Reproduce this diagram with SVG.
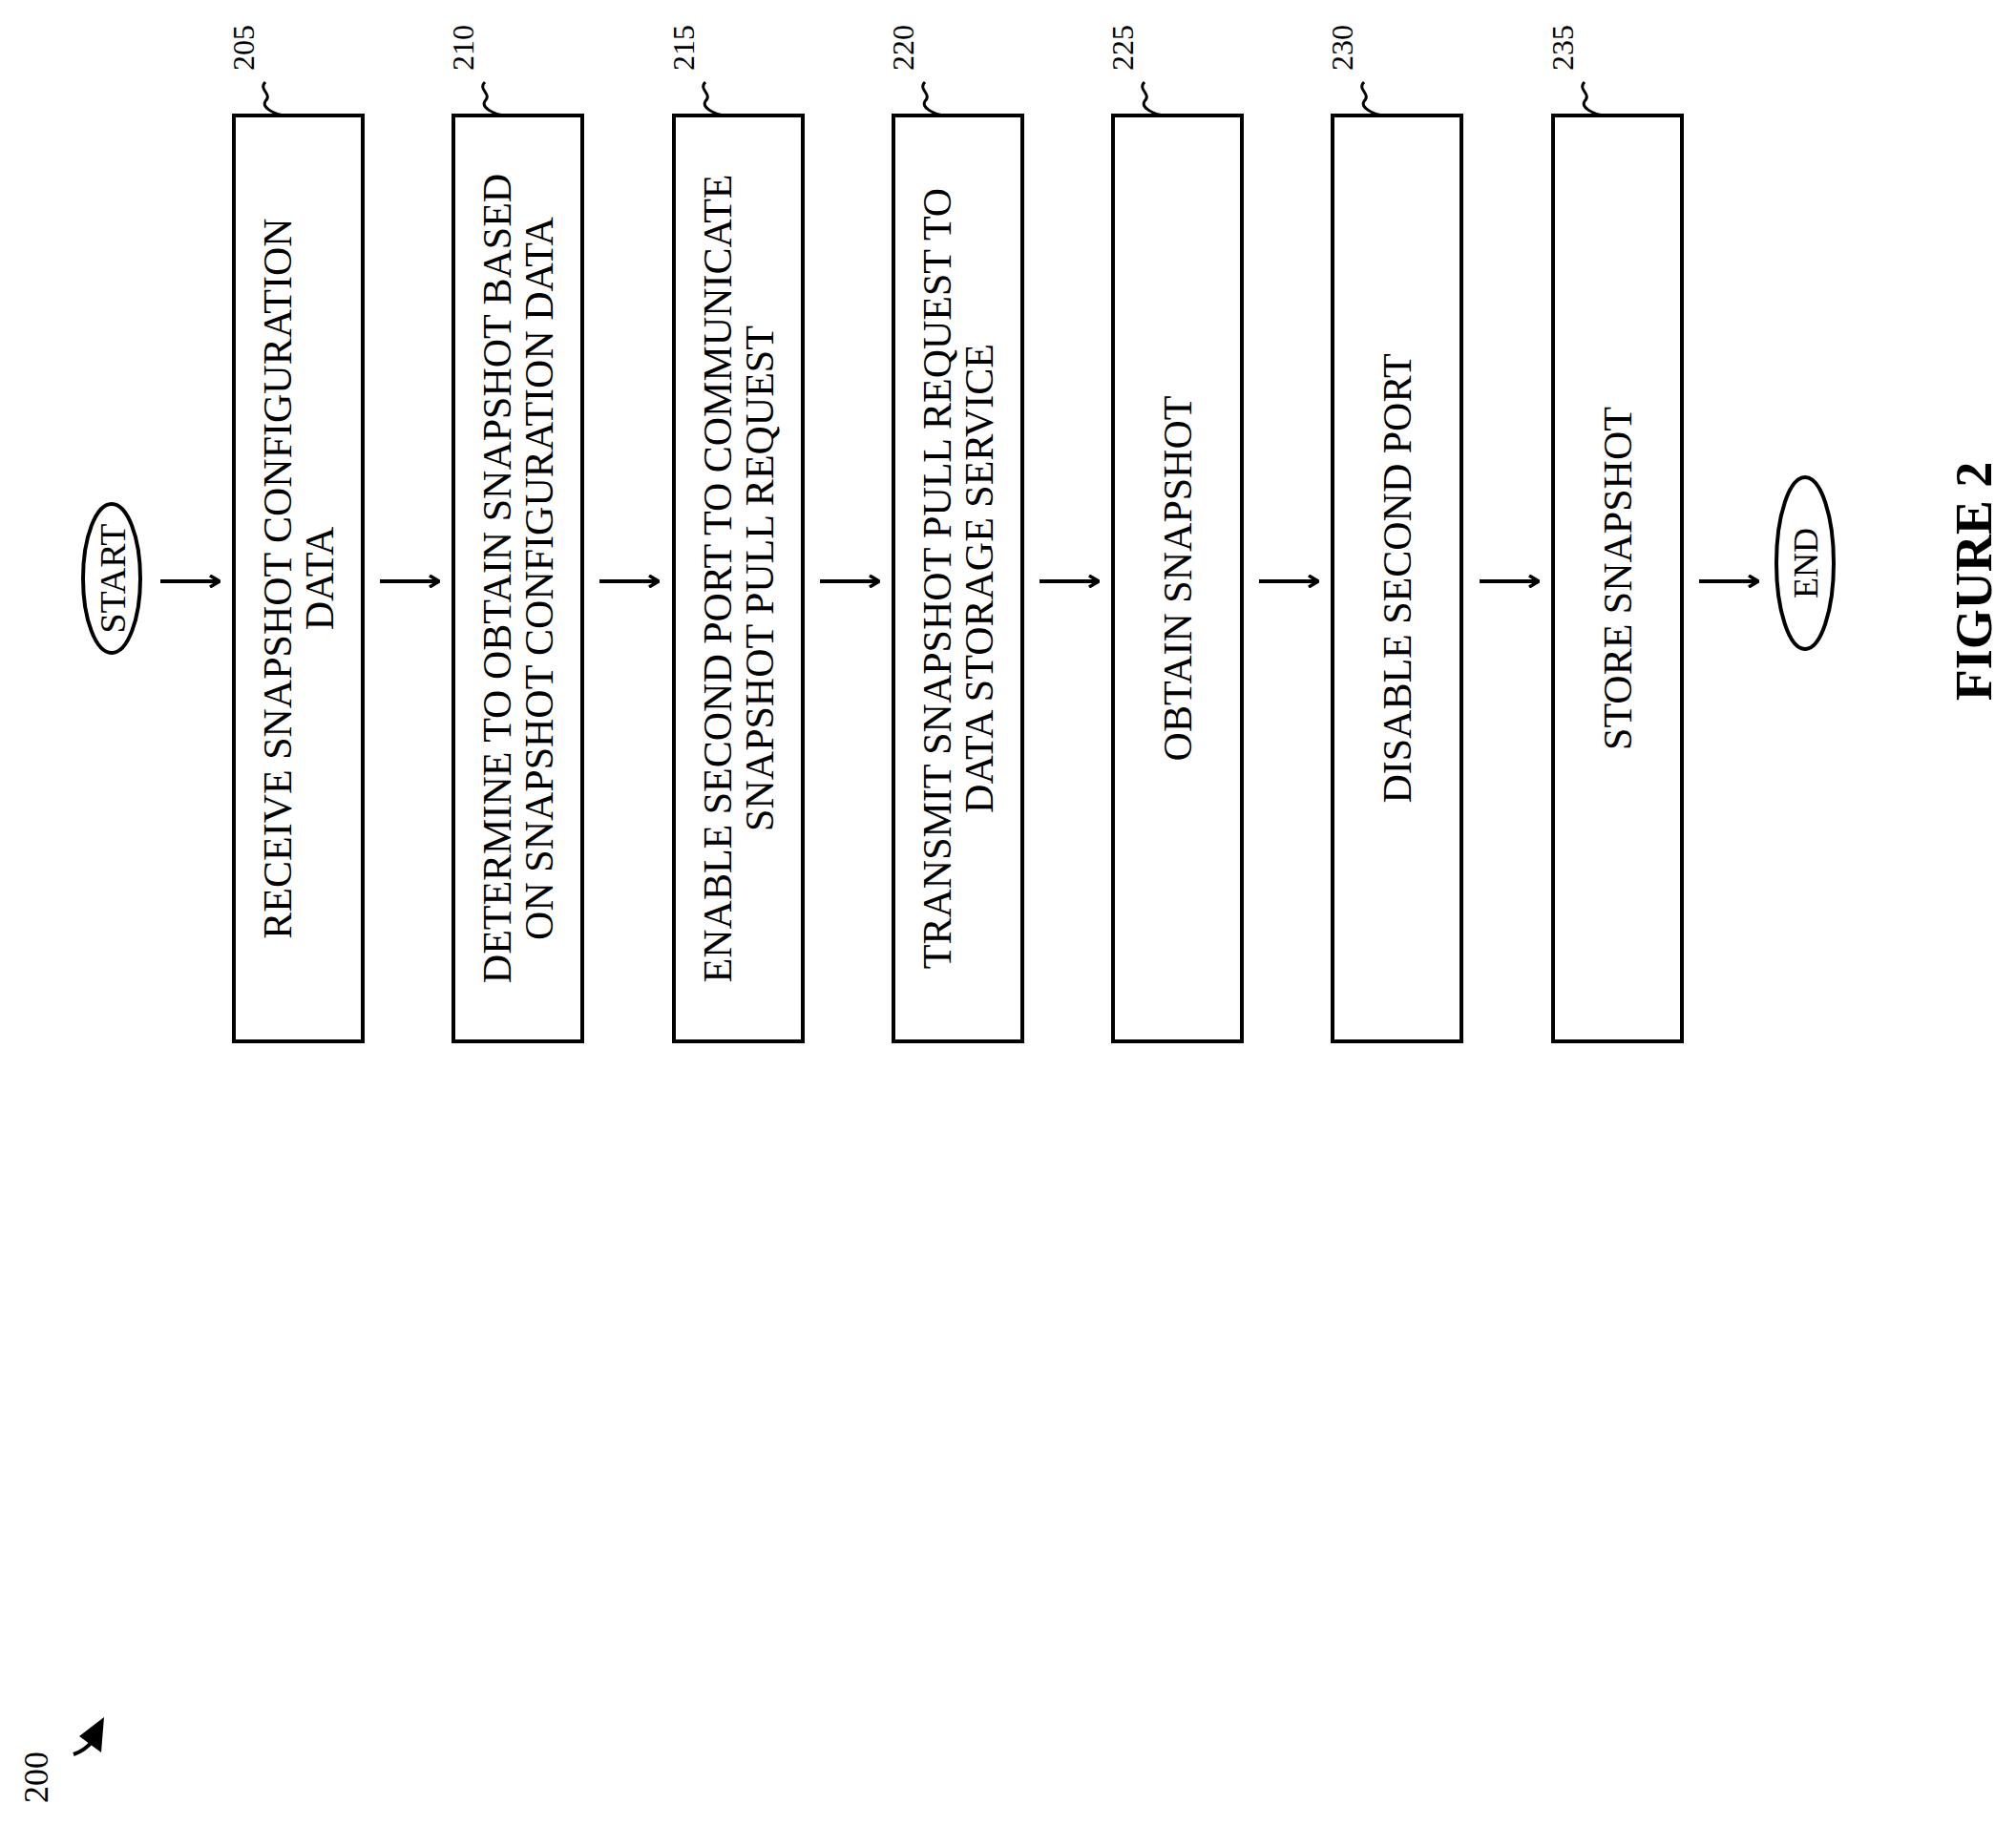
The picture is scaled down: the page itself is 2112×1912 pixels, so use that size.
<svg xmlns="http://www.w3.org/2000/svg" width="2112" height="1912" viewBox="0 0 2112 1912">
<style>
.b{fill:#fff;stroke:#000;stroke-width:4}
.t{font-family:"Liberation Serif",serif;font-size:42px;text-anchor:middle}
.n{font-family:"Liberation Serif",serif;font-size:32px;text-anchor:middle}
.c{fill:none;stroke:#000;stroke-width:4}
.s{fill:none;stroke:#000;stroke-width:3}
</style>
<defs><marker id="a" markerWidth="12" markerHeight="14" refX="11" refY="7" orient="auto" markerUnits="userSpaceOnUse"><path d="M1,1 L11,7 L1,13" fill="none" stroke="#000" stroke-width="3.5"/></marker></defs>
<rect width="2112" height="1912" fill="#fff"/>
<g id="start"><ellipse cx="117" cy="606" rx="30" ry="78" class="b"/><text class="t" transform="translate(117,606) rotate(-90)" y="14" style="font-size:38px">START</text></g>
<g id="n205"><rect x="245" y="121" width="135" height="970" class="b"/><text class="t" transform="translate(312,606) rotate(-90)"><tspan x="0" y="-7">RECEIVE SNAPSHOT CONFIGURATION</tspan><tspan x="0" y="37">DATA</tspan></text><text class="n" transform="translate(256,50) rotate(-90)" y="10">205</text><path class="s" d="M278,86 c-8,8 8,12 0,20 c-4,6 8,14 22,15"/></g>
<g id="n210"><rect x="475" y="121" width="135" height="970" class="b"/><text class="t" transform="translate(542,606) rotate(-90)"><tspan x="0" y="-7">DETERMINE TO OBTAIN SNAPSHOT BASED</tspan><tspan x="0" y="37">ON SNAPSHOT CONFIGURATION DATA</tspan></text><text class="n" transform="translate(486,50) rotate(-90)" y="10">210</text><path class="s" d="M508,86 c-8,8 8,12 0,20 c-4,6 8,14 22,15"/></g>
<g id="n215"><rect x="706" y="121" width="135" height="970" class="b"/><text class="t" transform="translate(773,606) rotate(-90)"><tspan x="0" y="-7">ENABLE SECOND PORT TO COMMUNICATE</tspan><tspan x="0" y="37">SNAPSHOT PULL REQUEST</tspan></text><text class="n" transform="translate(717,50) rotate(-90)" y="10">215</text><path class="s" d="M739,86 c-8,8 8,12 0,20 c-4,6 8,14 22,15"/></g>
<g id="n220"><rect x="936" y="121" width="135" height="970" class="b"/><text class="t" transform="translate(1003,606) rotate(-90)"><tspan x="0" y="-7">TRANSMIT SNAPSHOT PULL REQUEST TO</tspan><tspan x="0" y="37">DATA STORAGE SERVICE</tspan></text><text class="n" transform="translate(947,50) rotate(-90)" y="10">220</text><path class="s" d="M969,86 c-8,8 8,12 0,20 c-4,6 8,14 22,15"/></g>
<g id="n225"><rect x="1166" y="121" width="135" height="970" class="b"/><text class="t" transform="translate(1233,606) rotate(-90)" y="15">OBTAIN SNAPSHOT</text><text class="n" transform="translate(1177,50) rotate(-90)" y="10">225</text><path class="s" d="M1199,86 c-8,8 8,12 0,20 c-4,6 8,14 22,15"/></g>
<g id="n230"><rect x="1396" y="121" width="135" height="970" class="b"/><text class="t" transform="translate(1463,606) rotate(-90)" y="15">DISABLE SECOND PORT</text><text class="n" transform="translate(1407,50) rotate(-90)" y="10">230</text><path class="s" d="M1429,86 c-8,8 8,12 0,20 c-4,6 8,14 22,15"/></g>
<g id="n235"><rect x="1627" y="121" width="135" height="970" class="b"/><text class="t" transform="translate(1694,606) rotate(-90)" y="15">STORE SNAPSHOT</text><text class="n" transform="translate(1638,50) rotate(-90)" y="10">235</text><path class="s" d="M1660,86 c-8,8 8,12 0,20 c-4,6 8,14 22,15"/></g>
<g id="end"><ellipse cx="1891" cy="590" rx="30" ry="90" class="b"/><text class="t" transform="translate(1891,590) rotate(-90)" y="13" style="font-size:36px">END</text></g>
<g id="connectors">
<line x1="168" y1="609" x2="230" y2="609" class="c" marker-end="url(#a)"/>
<line x1="398" y1="609" x2="460" y2="609" class="c" marker-end="url(#a)"/>
<line x1="628" y1="609" x2="690" y2="609" class="c" marker-end="url(#a)"/>
<line x1="859" y1="609" x2="921" y2="609" class="c" marker-end="url(#a)"/>
<line x1="1089" y1="609" x2="1151" y2="609" class="c" marker-end="url(#a)"/>
<line x1="1319" y1="609" x2="1381" y2="609" class="c" marker-end="url(#a)"/>
<line x1="1550" y1="609" x2="1612" y2="609" class="c" marker-end="url(#a)"/>
<line x1="1780" y1="609" x2="1842" y2="609" class="c" marker-end="url(#a)"/>
</g>
<g id="ref200"><text class="n" transform="translate(38,1862) rotate(-90)" y="12" style="font-size:36px">200</text><path d="M77,1838 q12,-4 20,-14" class="c" stroke-width="5"/><path d="M109,1799 L83,1819 L106,1836 Z" fill="#000"/></g>
<text transform="translate(2068,609) rotate(-90)" y="18" style="font-family:'Liberation Serif',serif;font-size:54px;font-weight:bold;text-anchor:middle">FIGURE 2</text>
</svg>
